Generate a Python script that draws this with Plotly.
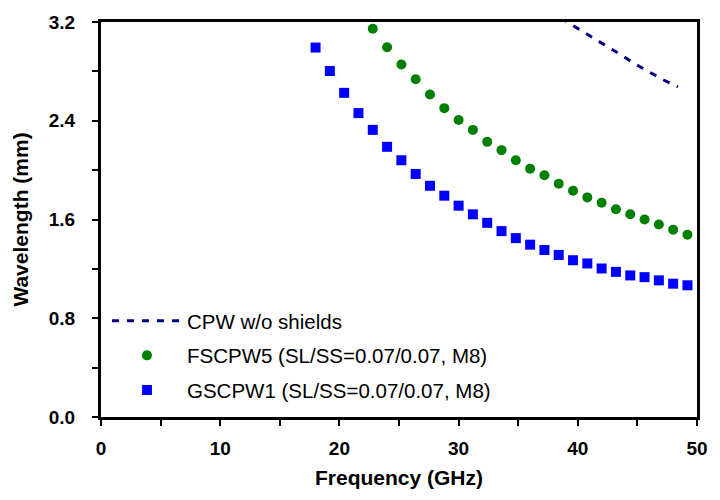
import plotly.graph_objects as go

# Frequency sweep (GHz) shared by the shielded lines
freq = [18.0, 19.2, 20.4, 21.6, 22.8, 24.0, 25.2, 26.4, 27.6, 28.8, 30.0,
        31.2, 32.4, 33.6, 34.8, 36.0, 37.2, 38.4, 39.6, 40.8, 42.0, 43.2,
        44.4, 45.6, 46.8, 48.0, 49.2]

# GSCPW1 guided wavelength (mm)
gscpw1 = [2.993, 2.803, 2.626, 2.462, 2.326, 2.189, 2.080, 1.969, 1.873,
          1.793, 1.712, 1.642, 1.573, 1.506, 1.449, 1.396, 1.353, 1.313,
          1.270, 1.244, 1.203, 1.176, 1.147, 1.133, 1.107, 1.080, 1.067]

# FSCPW5 guided wavelength (mm), from 22.8 GHz upward
fscpw5_freq = freq[4:]
fscpw5 = [3.146, 2.996, 2.856, 2.736, 2.613, 2.502, 2.406, 2.326, 2.229,
          2.162, 2.080, 2.012, 1.959, 1.889, 1.833, 1.779, 1.736, 1.683,
          1.642, 1.600, 1.559, 1.517, 1.477]

# Unshielded CPW
cpw_freq = [36.4, 37.6, 38.8, 40.0, 41.2, 42.4, 43.6, 44.8, 46.0, 47.2, 48.4]
cpw = [3.36, 3.29, 3.22, 3.15, 3.08, 3.005, 2.935, 2.86, 2.795, 2.73, 2.675]

FONT = "Liberation Sans, Arial, sans-serif"

fig = go.Figure()
fig.add_trace(go.Scatter(
    x=cpw_freq, y=cpw, mode="lines", name="CPW w/o shields",
    line=dict(color="#000080", width=3, dash="7px,8px"),
    legendgroup="a"))
fig.add_trace(go.Scatter(
    x=fscpw5_freq, y=fscpw5, mode="markers",
    name="FSCPW5 (SL/SS=0.07/0.07, M8)",
    marker=dict(symbol="circle", size=10, color="#008000"),
    legendgroup="b"))
fig.add_trace(go.Scatter(
    x=freq, y=gscpw1, mode="markers",
    name="GSCPW1 (SL/SS=0.07/0.07, M8)",
    marker=dict(symbol="square", size=10, color="#0000FF"),
    legendgroup="c"))

axis_common = dict(
    showline=True, linecolor="black", linewidth=3, mirror=True,
    ticks="outside", ticklen=6, tickwidth=1.5, tickcolor="black",
    showgrid=False, zeroline=False,
    tickfont=dict(family=FONT, size=19, color="black", weight="bold"),
)

fig.update_xaxes(
    range=[0, 50], tickvals=[0, 10, 20, 30, 40, 50],
    ticklabelstandoff=6,
    minor=dict(ticks="outside", ticklen=6, tickwidth=1.5, tickcolor="black",
               dtick=5, showgrid=False),
    title=dict(text="Frequency (GHz)", standoff=13,
               font=dict(family=FONT, size=21, color="black", weight="bold")),
    **axis_common)
fig.update_yaxes(
    range=[0, 3.2], tickvals=[0, 0.8, 1.6, 2.4, 3.2], tickformat=".1f",
    ticklabelstandoff=13,
    minor=dict(ticks="outside", ticklen=6, tickwidth=1.5, tickcolor="black",
               dtick=0.4, showgrid=False),
    title=dict(text="Wavelength (mm)", standoff=15,
               font=dict(family=FONT, size=21, color="black", weight="bold")),
    **axis_common)

fig.update_layout(
    width=720, height=500,
    margin=dict(l=101, r=14, t=18, b=83),
    paper_bgcolor="white", plot_bgcolor="white",
    showlegend=True,
    legend=dict(
        x=0.01, y=0.018, xanchor="left", yanchor="bottom",
        bgcolor="rgba(0,0,0,0)", itemwidth=70,
        traceorder="grouped", tracegroupgap=5,
        font=dict(family=FONT, size=20.5, color="black"),
    ),
)

fig.write_html("out.html")
